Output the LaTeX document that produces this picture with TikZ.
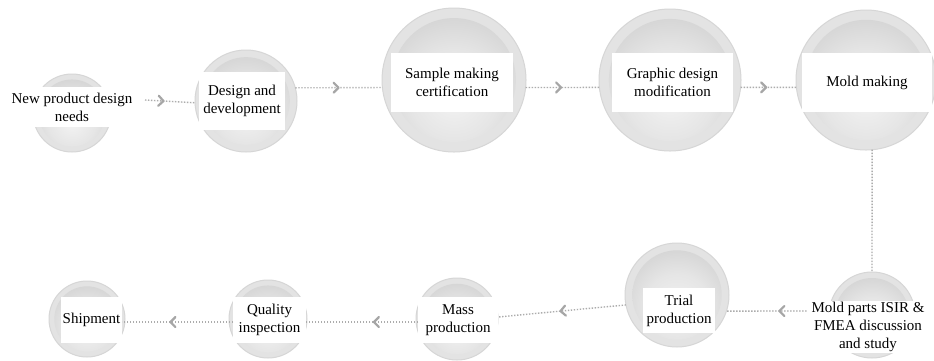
\documentclass[tikz,border=0pt]{standalone}
\usepackage{fontspec}
\setmainfont{Liberation Serif}
\newfontfamily\labelfont{Liberation Serif}
\usetikzlibrary{decorations.markings,calc}

% soft bowl-like shading for the inside of each disc
\pgfdeclareradialshading{orbshade}{\pgfpoint{0bp}{-8bp}}{%
  color(0bp)=(gray!10); color(18bp)=(gray!20); color(40bp)=(gray!42); color(48bp)=(gray!50); color(80bp)=(gray!50)}

\tikzset{
  orb/.style={circle, inner sep=0pt, outer sep=0pt, fill=gray!22, draw=gray!32, line width=1pt},
  labelbox/.style={fill=white, inner sep=0pt, outer sep=0pt, align=center,
    font=\labelfont\fontsize{15}{18}\selectfont},
  dots/.style={draw=gray!65, line width=1.4pt, dash pattern=on 1.4pt off 1.6pt},
  flow/.style={dots, postaction=decorate,
    decoration={markings, mark=at position #1 with {%
      \draw[solid, gray!70, line width=2.2pt, line cap=round, line join=round]
        (-3.5pt,5pt) -- (1.5pt,0pt) -- (-3.5pt,-5pt);}}}
}

\begin{document}
\begin{tikzpicture}[x=1pt,y=-1pt]
  \useasboundingbox[fill=white] (0,0) rectangle (934,360);

  % discs: name / x / y / radius
  \foreach \n/\x/\y/\r in {c1/72/113/39, c2/246/101/51, c3/454/80/72, c4/670/80/71,
                           c5/866/80/70, c6/872/315/43, c7/677/295/52, c8/457/319/41,
                           c9/268/319/39, c10/87/319/38}{
    \node[orb, minimum size=2*\r pt] (\n) at (\x,\y) {};
    \shade[shading=orbshade] (\n.center) circle[radius=0.86*\r pt];
  }

  % text labels
  \node[labelbox, minimum width=134pt, minimum height=40pt] (b1) at (72,107) {New product design\\needs};
  \node[labelbox, minimum width=86pt, minimum height=58pt] (b2) at (242,101) {Design and\\development};
  \node[labelbox, minimum width=122pt, minimum height=59pt] (b3) at (452,82.5) {Sample making\\certification};
  \node[labelbox, minimum width=121pt, minimum height=59pt] (b4) at (672.5,82.5) {Graphic design\\modification};
  \node[labelbox, minimum width=130pt, minimum height=59pt] (b5) at (867,82.5) {Mold making};
  \node[labelbox, minimum width=123pt, minimum height=52pt] (b6) at (868,327) {Mold parts ISIR \&\\FMEA discussion\\and study};
  \node[labelbox, minimum width=72pt, minimum height=45pt] (b7) at (679,310.5) {Trial\\production};
  \node[labelbox, minimum width=80pt, minimum height=46pt] (b8) at (458,320) {Mass\\production};
  \node[labelbox, minimum width=73pt, minimum height=46pt] (b9) at (269.5,320) {Quality\\inspection};
  \node[labelbox, minimum width=61pt, minimum height=46pt] (b10) at (91.5,320) {Shipment};

  % process flow
  \draw[flow=0.34] ([xshift=6pt,yshift=7pt]b1.east) -- (c2.182);
  \draw[flow=0.48] (c2.15) -- (c3.186);
  \draw[flow=0.46] (c3.-6) -- (c4.186);
  \draw[flow=0.43] (c4.-6) -- (c5.186);
  \draw[dots] (c5.-85) -- (c6.north);
  \draw[flow=0.32] ([yshift=16pt]b6.west) -- (c7.-18);
  \draw[flow=0.5] (c7.191) -- ([yshift=3pt]b8.east);
  \draw[flow=0.38] ([yshift=-2pt]b8.west) -- ([yshift=-2pt]b9.east);
  \draw[flow=0.55] ([yshift=-2pt]b9.west) -- ([yshift=-2pt]b10.east);
\end{tikzpicture}
\end{document}
